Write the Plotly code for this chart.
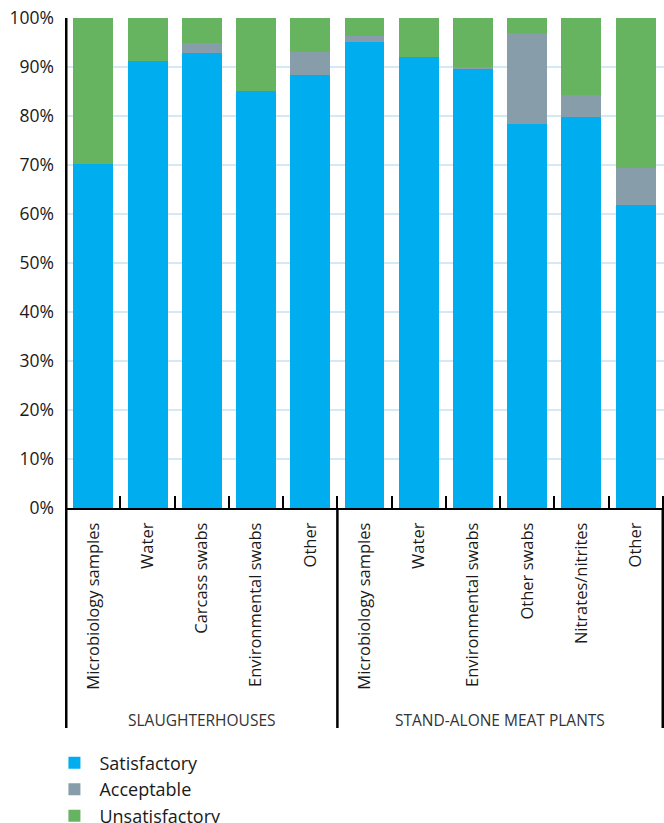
import plotly.graph_objects as go

groups = ["SLAUGHTERHOUSES"] * 5 + ["STAND-ALONE MEAT PLANTS"] * 6
categories = ["Microbiology samples", "Water", "Carcass swabs", "Environmental swabs", "Other",
              "Microbiology samples", "Water", "Environmental swabs", "Other swabs",
              "Nitrates/nitrites", "Other"]
satisfactory = [70.3, 91.2, 92.9, 85.2, 88.3, 95.2, 92.0, 89.5, 78.3, 79.8, 61.8]
acceptable = [0.0, 0.0, 1.9, 0.0, 4.8, 1.1, 0.0, 0.5, 18.6, 4.4, 7.6]
unsatisfactory = [29.7, 8.8, 5.2, 14.8, 6.9, 3.7, 8.0, 10.0, 3.1, 15.7, 30.6]
y_ticks = [0, 10, 20, 30, 40, 50, 60, 70, 80, 90, 100]
y_tick_text = [f"{v}%" for v in y_ticks]

ids = [f"{g}|{i}" for i, g in enumerate(groups)]

colors = {"Satisfactory": "#00AEEF", "Acceptable": "#879DAA", "Unsatisfactory": "#66B360"}
series = [("Satisfactory", satisfactory), ("Acceptable", acceptable), ("Unsatisfactory", unsatisfactory)]

fig = go.Figure()
for name, vals in series:
    fig.add_trace(go.Bar(x=ids, y=vals, name=name, marker_color=colors[name],
                         marker_line_width=0, legendgroup=name))

FONT = "Open Sans, Noto Sans, sans-serif"
fig.update_layout(
    width=664, height=823,
    margin=dict(l=65, r=0, t=18, b=315, autoexpand=False),
    barmode="stack", bargap=0.265,
    plot_bgcolor="white", paper_bgcolor="white",
    font=dict(family=FONT, color="#1a1a1a"),
    legend=dict(x=-0.026, xanchor="left", y=-0.483, yanchor="top",
                font=dict(size=18, color="#1a1a1a"), tracegroupgap=3,
                itemwidth=40, traceorder="normal"),
)
fig.update_yaxes(range=[0, 100], tickvals=y_ticks, ticktext=y_tick_text,
                 showgrid=True, gridcolor="#d3e9f6", gridwidth=2,
                 showline=False, zeroline=False, ticks="", automargin=False,
                 ticklabelstandoff=10,
                 tickfont=dict(size=17.5, color="#1a1a1a"))
fig.update_xaxes(type="category", tickvals=ids, ticktext=categories, tickangle=-90,
                 ticks="inside", tickson="boundaries", ticklen=12, tickwidth=2,
                 tickcolor="black", showline=True, linecolor="black", linewidth=2,
                 ticklabelstandoff=6, automargin=False,
                 tickfont=dict(size=16.5, color="#1a1a1a"), showgrid=False)

# axis / group separator lines
n = len(ids)
bounds = [-0.5]
for i in range(1, n):
    if groups[i] != groups[i - 1]:
        bounds.append(i - 0.5)
bounds.append(n - 0.5)
for j, b in enumerate(bounds):
    fig.add_shape(type="line", xref="x", yref="paper", x0=b, x1=b,
                  y0=-0.449, y1=1.0 if j == 0 else 0,
                  line=dict(color="black", width=2.5))

# group labels
for g in dict.fromkeys(groups):
    idx = [i for i, gg in enumerate(groups) if gg == g]
    fig.add_annotation(x=(idx[0] + idx[-1]) / 2, y=-0.433, xref="x", yref="paper",
                       text=g, showarrow=False, yanchor="middle",
                       font=dict(size=15.5, color="#333333"))

fig.write_html("out.html")
